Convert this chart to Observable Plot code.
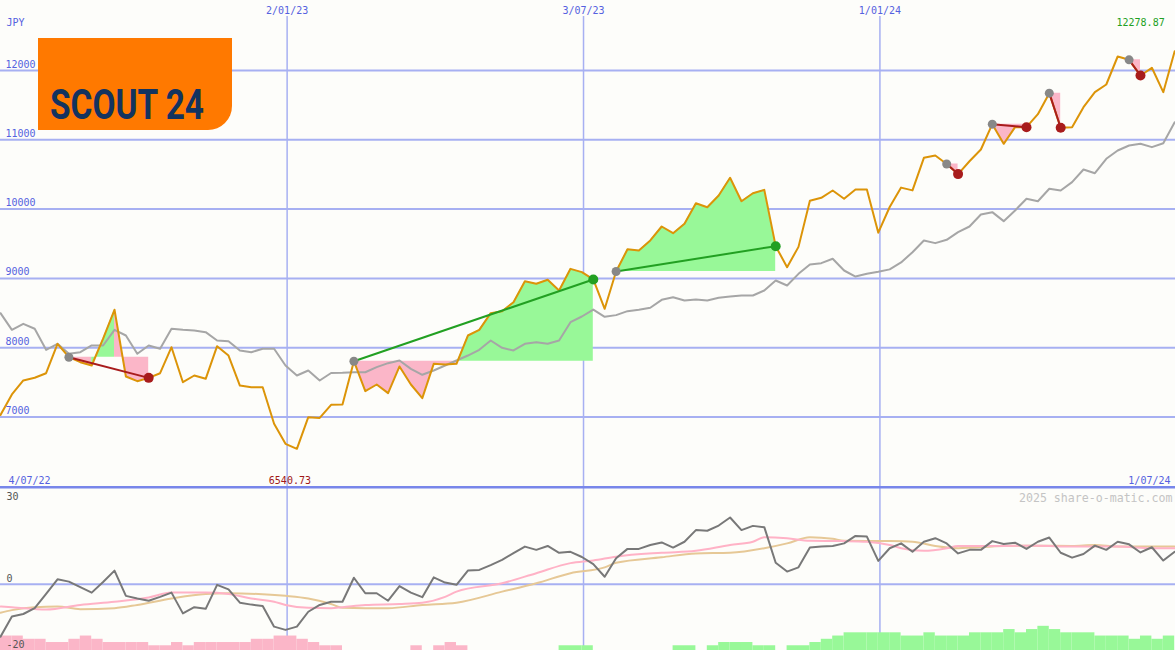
<!DOCTYPE html>
<html><head><meta charset="utf-8">
<script src="https://cdn.jsdelivr.net/npm/d3@7"></script>
<script src="https://cdn.jsdelivr.net/npm/@observablehq/plot@0.6"></script>
<style>
body{margin:0;background:#fdfdfa;}
#chart{width:1175px;height:650px;overflow:hidden;background:#fdfdfa;}
#chart svg{display:block;}
</style></head><body><div id="chart"></div>
<script>
// ---------- data ----------
const firstWeek = "2022-07-10";           // weekly closes, one per week
const price = [
 7030,7325,7527,7566,7632,8056,7863,7791,7743,8130,
 8547,7584,7517,7565,7632,8007,7502,7599,7551,8022,
 7887,7454,7430,7430,6902,6613,6540.73,6997,6987,7175,
 7180,7805,7373,7469,7344,7729,7469,7272,7767,7758,
 7767,8176,8258,8498,8527,8657,8960,8922,8980,8825,
 9138,9090,8985,8561,9100,9420,9403,9547,9749,9652,
 9788,10085,10027,10196,10452,10114,10229,10278,9465,9162,
 9455,10120,10163,10268,10149,10283,10283,9660,10030,10310,
 10270,10740,10773,10650,10505,10690,10860,11226,10942,11182,
 11182,11370,11673,11173,11182,11471,11687,11798,12202,12154,
 11928,12039,11687,12278.87];
const bench = [
 8498,8258,8345,8273,7969,8056,7912,7935,8032,8032,
 8258,8176,7912,8032,7984,8273,8258,8248,8224,8104,
 8094,7960,7935,7984,7984,7743,7599,7671,7527,7635,
 7637,7646,7646,7719,7777,7815,7695,7609,7671,7743,
 7815,7887,7969,8104,7998,7960,8056,8080,8056,8104,
 8368,8450,8550,8445,8470,8527,8547,8576,8691,8729,
 8681,8696,8681,8720,8739,8753,8753,8825,8970,8898,
 9066,9201,9220,9283,9114,9027,9066,9095,9130,9230,
 9378,9547,9509,9557,9667,9749,9922,9956,9826,9980,
 10149,10114,10293,10268,10389,10571,10518,10726,10846,10918,
 10942,10894,10951,11254];
// trades: entry week, exit week, direction
const tradeStart = [6, 31, 54, 83, 87, 92, 99];
const tradeEnd   = [13, 52, 68, 84, 90, 93, 100];
const tradeType  = ["sell","buy","buy","sell","sell","sell","sell"];
// lower panel
const osc = [
 -16.2,-10.0,-9.2,-7.4,-3.0,1.5,0.8,-0.9,-2.6,0.7,
 4.2,-3.6,-4.4,-5.1,-3.9,-2.6,-9.0,-7.1,-7.6,-0.2,
 -1.6,-5.7,-6.3,-6.7,-13.1,-14.1,-13.1,-8.5,-6.4,-5.4,
 -5.4,2.0,-2.8,-2.8,-5.1,-0.6,-2.6,-4.0,2.1,0.5,
 -0.2,4.2,4.4,5.9,7.5,9.6,11.6,10.6,11.8,9.7,
 10.0,8.4,6.2,2.3,8.0,10.9,10.9,12.1,12.9,11.3,
 13.1,16.7,16.5,18.1,20.6,16.7,18.0,17.6,6.6,3.9,
 5.2,11.3,11.6,11.8,12.6,14.9,14.7,7.2,11.1,12.6,
 10.0,13.1,14.2,12.6,9.5,10.6,10.6,13.3,12.4,12.8,
 10.9,13.1,14.4,9.7,8.2,9.3,11.9,10.6,13.1,12.3,
 9.8,11.4,7.3,10.0];
const pinkWeek = [0,1,4,7,10,13,15,18,20,22,24,25,27,29,30,32,35,37,39,40,44,47,50,52,54,58,61,64,66,67,69,71,74,76,78,79,81,83,84,88,91,94,98,101,103];
const pinkVal  = [-6.9,-7.1,-7.8,-6.4,-5.4,-4.1,-2.6,-2.6,-3.0,-4.4,-5.4,-6.4,-7.3,-7.4,-7.1,-6.4,-6.1,-5.7,-3.9,-2.3,0.3,3.4,6.5,7.3,8.5,9.7,10.3,12.1,13.1,14.5,14.2,13.4,13.3,13.1,12.1,11.1,10.3,11.1,11.8,11.8,11.9,11.6,11.6,11.1,11.1];
const tanWeek  = [0,1,3,5,7,10,12,15,18,20,23,25,27,29,30,32,34,37,40,44,47,50,53,54,58,61,64,67,69,71,73,74,78,80,82,84,88,91,94,96,98,101,103];
const tanVal   = [-8.8,-8.0,-7.1,-6.9,-7.7,-7.4,-6.4,-4.4,-3.0,-2.8,-3.1,-3.6,-4.4,-6.1,-7.3,-7.4,-7.4,-6.4,-5.7,-2.3,0.3,3.4,5.2,6.6,8.3,9.5,9.7,11.1,12.6,14.5,14.0,13.4,13.3,13.1,11.8,11.1,11.8,11.9,11.8,12.1,11.6,11.6,11.6];
const histo = [
 -4,-4,-3,-3,-2,-2,-3,-4,-3,-2,
 -2,-2,-2,-1,-1,-2,-1,-2,-2,-2,
 -2,-2,-3,-3,-4,-4,-3,-2,-1,-1,
 0,0,0,0,0,0,-1,0,-1,-2,
 -1,0,0,0,0,0,0,0,0,1,
 1,1,0,0,0,0,0,0,0,1,
 1,0,1,2,2,2,1,1,0,1,
 1,2,3,4,5,5,5,5,5,4,
 4,5,4,4,4,5,5,5,6,5,
 6,7,6,5,5,5,4,4,4,3,
 4,3,4];
const yTicks = [7000, 8000, 9000, 10000, 11000, 12000];
const gridDates  = ["2023-01-02", "2023-07-03", "2024-01-01"];
const gridLabels = ["2/01/23", "3/07/23", "1/01/24"];
const edgeLabels = ["4/07/22", "1/07/24"];
const oscTicks = [30, 0, -20];

// ---------- helpers ----------
const DAY = 86400000;
const t0 = Date.parse(firstWeek + "T00:00:00Z");
const wk = w => new Date(t0 + w * 7 * DAY);
const xDomain = [wk(0), new Date(t0 + 721.5 * DAY)];
const dates = price.map((_, i) => wk(i));
const priceRows = price.map((v, i) => ({date: dates[i], v}));
const benchRows = bench.map((v, i) => ({date: dates[i], v}));
const grid = gridDates.map((d, i) => ({date: new Date(d + "T00:00:00Z"), label: gridLabels[i]}));

const GRID = "#a7b0f2", BLUE = "#5561e0", MONO = "DejaVu Sans Mono";
const PINK = "#fbb6c8", LGREEN = "#98f898";
const trades = tradeStart.map((s, i) => ({s, e: tradeEnd[i], type: tradeType[i]}));

const fillRows = [];
let gid = 0;
trades.forEach(t => {
  const base = price[t.s];
  let prevCol = null;
  for (let k = t.s; k < t.e; k++) {
    const col = price[k + 1] >= base ? LGREEN : PINK;
    if (col !== prevCol) { gid++; fillRows.push({date: dates[k], base, v: price[k], g: gid, col}); prevCol = col; }
    fillRows.push({date: dates[k + 1], base, v: price[k + 1], g: gid, col});
  }
});
const links = trades.map(t => ({x1: dates[t.s], y1: price[t.s], x2: dates[t.e], y2: price[t.e],
  col: t.type === "buy" ? "#22a022" : "#a81c1c"}));
const startPts = trades.map(t => ({date: dates[t.s], v: price[t.s]}));
const endPts = trades.map(t => ({date: dates[t.e], v: price[t.e], col: t.type === "buy" ? "#22a022" : "#a81c1c"}));
const minI = price.indexOf(d3.min(price)), maxI = price.indexOf(d3.max(price));

const txt = {fontFamily: MONO, fontSize: 10, lineAnchor: "bottom"};

// ---------- main panel ----------
const main = Plot.plot({
  width: 1175, height: 486, margin: 0,
  style: {background: "transparent"},
  x: {type: "utc", domain: xDomain, range: [0, 1175], axis: null},
  y: {domain: [6000, 13000], range: [485.8, 0.7], axis: null},
  color: {type: "identity"},
  marks: [
    Plot.ruleY(yTicks, {stroke: GRID, strokeWidth: 2}),
    Plot.ruleX(grid, {x: "date", stroke: GRID, strokeWidth: 1.5, insetTop: 16}),
    Plot.areaY(fillRows, {x: "date", y1: "base", y2: "v", z: "g", fill: "col"}),
    Plot.line(benchRows, {x: "date", y: "v", stroke: "#a6a6a6", strokeWidth: 2}),
    Plot.line(priceRows, {x: "date", y: "v", stroke: "#dc9408", strokeWidth: 2}),
    Plot.link(links, {x1: "x1", y1: "y1", x2: "x2", y2: "y2", stroke: "col", strokeWidth: 2}),
    Plot.dot(startPts, {x: "date", y: "v", r: 4.5, fill: "#888888"}),
    Plot.dot(endPts, {x: "date", y: "v", r: 5, fill: "col"}),
    Plot.text(yTicks, {...txt, y: d => d, text: d => String(d), frameAnchor: "left", dx: 5, dy: -3, textAnchor: "start", fill: BLUE}),
    Plot.text(["JPY"], {...txt, frameAnchor: "top-left", dx: 6, dy: 25, textAnchor: "start", fill: BLUE}),
    Plot.text(grid, {...txt, x: "date", text: "label", frameAnchor: "top", dy: 13, fill: BLUE}),
    Plot.text([edgeLabels[0]], {...txt, frameAnchor: "bottom-left", dx: 8, dy: -3, textAnchor: "start", fill: BLUE}),
    Plot.text([edgeLabels[1]], {...txt, frameAnchor: "bottom-right", dx: -5, dy: -3, textAnchor: "end", fill: BLUE}),
    Plot.text([minI], {...txt, x: i => dates[i], text: i => price[i].toFixed(2), frameAnchor: "bottom", dx: -7, dy: -3, fill: "#a01818"}),
    Plot.text([maxI], {...txt, x: i => dates[i], text: i => price[i].toFixed(2), frameAnchor: "top", dx: -10, dy: 25, textAnchor: "end", fill: "#22a022"})
  ]
});
// logo
const ms = d3.select(main);
ms.append("path").attr("d", "M38,38H232V106A24,24 0 0 1 208,130H38Z").attr("fill", "#ff7900");
ms.append("text").attr("x", 50).attr("y", 119).attr("text-anchor", "start")
  .attr("textLength", 154).attr("lengthAdjust", "spacingAndGlyphs")
  .attr("font-family", "Roboto, 'DejaVu Sans'").attr("font-weight", 700).attr("font-size", 43)
  .attr("fill", "#13335f").text("SCOUT 24");

// ---------- lower panel ----------
const oscRows = osc.map((v, i) => ({date: dates[i], v}));
const pinkRows = pinkWeek.map((w, i) => ({date: wk(w), v: pinkVal[i]}));
const tanRows = tanWeek.map((w, i) => ({date: wk(w), v: tanVal[i]}));
const bars = histo.map((v, i) => ({x1: wk(i), x2: wk(i + 1), v})).filter(d => d.v !== 0);
const lower = Plot.plot({
  width: 1175, height: 164, margin: 0,
  style: {background: "transparent"},
  x: {type: "utc", domain: xDomain, range: [0, 1175], axis: null},
  y: {domain: [-20, 30], range: [162.5, 0.5], axis: null},
  color: {type: "identity"},
  marks: [
    Plot.ruleX(grid, {x: "date", stroke: GRID, strokeWidth: 1.5}),
    Plot.ruleY([0], {stroke: GRID, strokeWidth: 2}),
    Plot.rectY(bars, {x1: "x1", x2: "x2", y1: () => -20, y2: d => -20 + Math.abs(d.v), insetBottom: -2,
      fill: d => d.v > 0 ? LGREEN : PINK}),
    Plot.line(tanRows, {x: "date", y: "v", stroke: "#e6c896", strokeWidth: 2, curve: "monotone-x"}),
    Plot.line(pinkRows, {x: "date", y: "v", stroke: "#ffb2c6", strokeWidth: 2, curve: "monotone-x"}),
    Plot.line(oscRows, {x: "date", y: "v", stroke: "#787878", strokeWidth: 2}),
    Plot.ruleY([30], {stroke: "#7886ea", strokeWidth: 3}),
    Plot.text([oscTicks[0]], {...txt, y: d => d, text: String, frameAnchor: "left", dx: 6, dy: 13, textAnchor: "start", fill: "#555555"}),
    Plot.text([oscTicks[1]], {...txt, y: d => d, text: String, frameAnchor: "left", dx: 6, dy: -2, textAnchor: "start", fill: "#555555"}),
    Plot.text([oscTicks[2]], {...txt, y: d => d, text: String, frameAnchor: "left", dx: 6, dy: -1.5, textAnchor: "start", fill: "#555555"}),
    Plot.text(["2025 share-o-matic.com"], {fontFamily: MONO, fontSize: 11.6, lineAnchor: "bottom", frameAnchor: "top-right", dx: -3, dy: 15, textAnchor: "end", fill: "#c4c4c4"})
  ]
});
const root = document.getElementById("chart");
root.appendChild(main);
root.appendChild(lower);
</script>
</body></html>
